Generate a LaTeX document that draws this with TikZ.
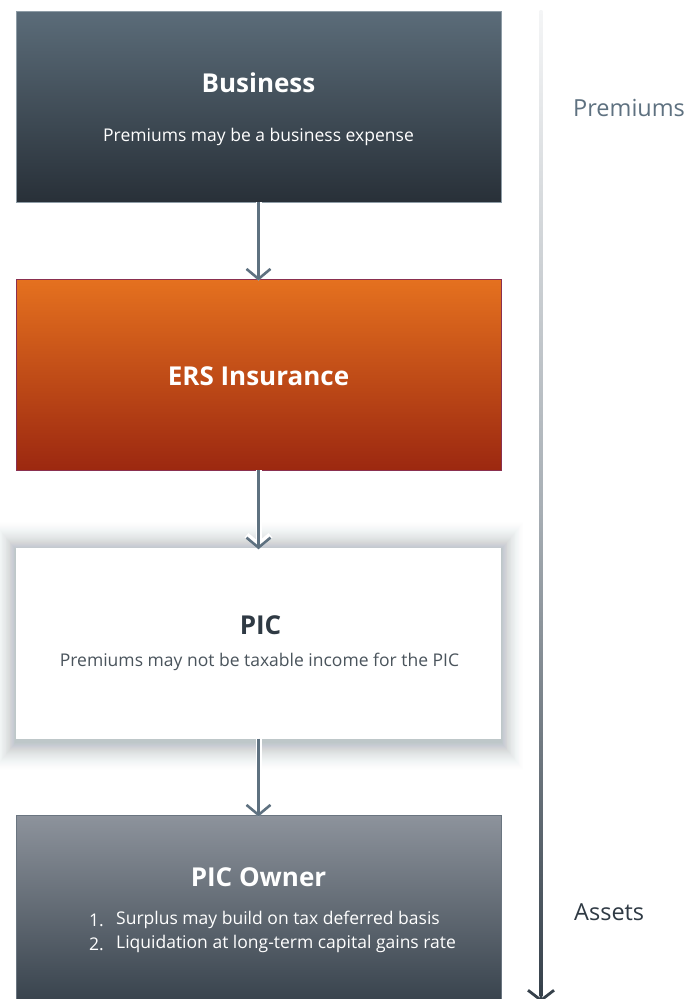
\documentclass[tikz,border=0pt]{standalone}
\usepackage{fontspec}
\setmainfont{Open Sans}
\usetikzlibrary{arrows.meta}

\definecolor{bizTop}{HTML}{5B6C79}
\definecolor{bizBot}{HTML}{283038}
\definecolor{bizEdge}{HTML}{8E9CA6}
\definecolor{ersTop}{HTML}{E5711F}
\definecolor{ersBot}{HTML}{9C2810}
\definecolor{ersEdge}{HTML}{8A3050}
\definecolor{ownTop}{HTML}{8D939C}
\definecolor{ownBot}{HTML}{36414B}
\definecolor{ownEdge}{HTML}{6A7580}
\definecolor{slate}{HTML}{5E7180}
\definecolor{ink}{HTML}{2F3A44}
\definecolor{softink}{HTML}{4A545C}
\definecolor{shadowcol}{HTML}{6F7F8C}
\definecolor{axisTop}{HTML}{F4F5F6}
\definecolor{axisMid}{HTML}{A9B0B6}
\definecolor{axisBot}{HTML}{36414B}

\tikzset{
  box/.style={rectangle, minimum width=485pt, minimum height=191pt, inner sep=0pt},
  title/.style={font=\fontsize{26}{31}\selectfont\bfseries, inner sep=0pt},
  body/.style={font=\fontsize{17.5}{21}\selectfont, inner sep=0pt},
  side/.style={font=\fontsize{23.5}{28}\selectfont, inner sep=0pt, anchor=west},
  tip/.style={-{Straight Barb[length=10pt,width=24pt]}},
  halo/.style={white, line width=6pt, tip, shorten >=-2pt},
  flow/.style={slate, line width=2.6pt, tip, shorten >=-2pt},
}

\begin{document}
\begin{tikzpicture}[x=1pt,y=-1pt]
  \clip (0,0) rectangle (700,999);
  \fill[white] (0,0) rectangle (700,999);

  % soft shadow under the PIC card: stacked faint layers, denser near the card
  \foreach \d in {1,...,30}{
    \pgfmathsetmacro{\op}{0.03*(1-\d/31)}
    \fill[shadowcol, fill opacity=\op]
      (16-\d*0.8,550-\d) rectangle (501+\d*0.8,742+\d);
  }

  % boxes
  \node[box, draw=bizEdge, line width=0.8pt, top color=bizTop, bottom color=bizBot] (biz) at (258.5,106.5) {};
  \node[box, draw=ersEdge, line width=0.8pt, top color=ersTop, bottom color=ersBot] (ers) at (258.5,374.5) {};
  \node[box, fill=white] (pic) at (258.5,643) {};
  \node[box, draw=ownEdge, line width=0.8pt, top color=ownTop, bottom color=ownBot] (own) at (258.5,910.5) {};

  % texts
  \node[title, white] (bizT) at (258.5,83) {Business};
  \node[body, white] (bizS) at (258.5,136.5) {Premiums may be a business expense};
  \node[title, white] (ersT) at (258.5,376) {ERS Insurance};
  \node[title, ink] (picT) at (260.5,625) {PIC};
  \node[body, softink] (picS) at (259.5,662) {Premiums may not be taxable income for the PIC};
  \node[title, white] (ownT) at (258.5,877) {PIC Owner};
  \node[body, white, anchor=west] (own1n) at (89,920) {1.};
  \node[body, white, anchor=west] (own1) at (116,920) {Surplus may build on tax deferred basis};
  \node[body, white, anchor=west] (own2n) at (89,944) {2.};
  \node[body, white, anchor=west] (own2) at (116,944) {Liquidation at long-term capital gains rate};

  % connectors
  \foreach \a/\b in {biz/ers, ers/pic, pic/own}{
    \draw[halo] (\a.south) -- (\b.north);
    \draw[flow] (\a.south) -- (\b.north);
  }

  % premiums / assets axis
  \coordinate (axTop) at (541,10);
  \coordinate (axEnd) at (541,1002);
  \shade[top color=axisTop, bottom color=axisBot, middle color=axisMid] (539.6,10) rectangle (542.4,996);
  \draw[axisBot, line width=2.8pt, -{Straight Barb[length=10pt,width=26pt]}] (541,985) -- (axEnd);

  \node[side, slate] (prem) at (573,108) {Premiums};
  \node[side, ink] (assets) at (574,912) {Assets};
\end{tikzpicture}
\end{document}
